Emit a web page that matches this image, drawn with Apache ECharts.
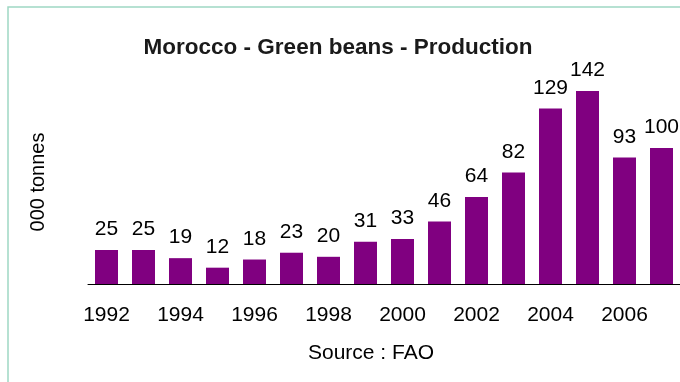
<!DOCTYPE html>
<html>
<head>
<meta charset="utf-8">
<style>
  html, body { margin: 0; padding: 0; background: #fff; }
  #chart { width: 680px; height: 382px; }
</style>
<script src="https://cdn.jsdelivr.net/npm/echarts@6/dist/echarts.min.js"></script>
</head>
<body>
<div id="chart"></div>
<script>
// Morocco green beans production, thousand tonnes (FAO)
const years = ['1992','1993','1994','1995','1996','1997','1998','1999',
               '2000','2001','2002','2003','2004','2005','2006','2007'];
const production = [25, 25, 19, 12, 18, 23, 20, 31, 33, 46, 64, 82, 129, 142, 93, 100];

const chartTitle = 'Morocco - Green beans - Production';
const unitLabel = '000 tonnes';
const sourceLabel = 'Source : FAO';

const FONT = '"Liberation Sans", Arial, sans-serif';

const chart = echarts.init(document.getElementById('chart'), null, { renderer: 'canvas' });

chart.setOption({
  animation: false,
  backgroundColor: '#ffffff',
  title: {
    text: chartTitle,
    left: 333,
    textAlign: 'center',
    top: 31,
    textStyle: { fontFamily: FONT, fontSize: 22.5, fontWeight: 'bold', color: '#1a1a1a' }
  },
  grid: { left: 88, top: 80, width: 593, height: 204 },
  xAxis: {
    type: 'category',
    data: years,
    boundaryGap: true,
    axisLine: { lineStyle: { color: '#000', width: 1 } },
    axisTick: { interval: 0, length: 6, lineStyle: { color: '#000' } },
    axisLabel: { interval: 1, margin: 21, fontFamily: FONT, fontSize: 21, color: '#000' }
  },
  yAxis: {
    type: 'value',
    min: 0,
    max: 150,
    name: unitLabel,
    nameLocation: 'middle',
    nameRotate: 90,
    nameGap: 40,
    nameTextStyle: { fontFamily: FONT, fontSize: 20, color: '#000' },
    axisLine: { show: false },
    axisTick: { show: false },
    axisLabel: { show: false },
    splitLine: { show: false }
  },
  series: [{
    type: 'bar',
    data: production,
    barWidth: 23,
    itemStyle: { color: '#800080' },
    label: {
      show: true,
      position: 'top',
      distance: 10,
      fontFamily: FONT,
      fontSize: 21,
      color: '#000'
    }
  }],
  graphic: [
    {
      type: 'rect',
      shape: { x: 8, y: 7, width: 720, height: 420 },
      style: { fill: 'none', stroke: '#9fd8c3', lineWidth: 1.5 },
      silent: true
    },
    {
      type: 'text',
      x: 371,
      y: 353,
      style: {
        text: sourceLabel,
        font: '21px ' + FONT,
        fill: '#000',
        textAlign: 'center',
        textVerticalAlign: 'middle'
      }
    }
  ]
});
</script>
</body>
</html>
